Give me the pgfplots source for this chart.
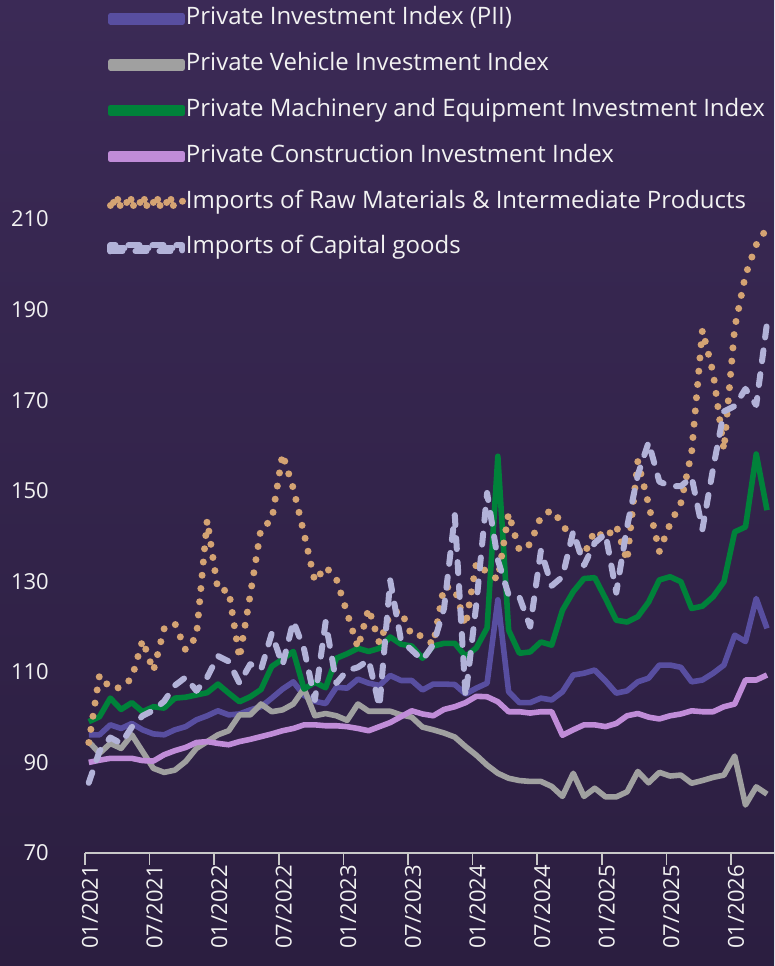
\documentclass[border=0pt]{standalone}
\usepackage{pgfplots}
\pgfplotsset{compat=1.18}
\usepackage{pgfplotstable}
\usepackage{fontspec}
\setmainfont{Open Sans}

\definecolor{bgtop}{RGB}{59,42,86}
\definecolor{bgbot}{RGB}{43,30,64}
\definecolor{cpii}{RGB}{88,78,160}
\definecolor{cveh}{RGB}{160,160,160}
\definecolor{cme}{RGB}{0,130,58}
\definecolor{ccon}{RGB}{192,140,216}
\definecolor{craw}{RGB}{212,163,115}
\definecolor{ccap}{RGB}{178,178,216}
\definecolor{axisgray}{RGB}{200,200,200}
\definecolor{txt}{RGB}{242,242,242}

\pgfplotsset{
  legsolid/.style={legend image code/.code={\path (0bp,-3bp) rectangle (72bp,3bp); \draw[##1, line cap=round] (2.8bp,0bp) -- (69.2bp,0bp);}},
  legshort/.style={legend image code/.code={\path (0bp,-3bp) rectangle (72bp,3bp); \draw[##1] (3bp,0bp) -- (#1,0bp);}},
}

\pgfplotstableread{
i pii veh me con raw cap
0 96.1 94.6 99.0 90.0 94.4 85.5
1 96.1 92.0 100.1 90.5 109.3 92.5
2 98.3 94.2 104.2 90.9 106.4 95.5
3 97.5 93.1 101.7 90.9 106.5 94.2
4 98.6 96.1 103.2 90.9 108.6 97.8
5 97.2 92.4 101.2 90.4 117.0 100.3
6 96.3 88.7 102.3 90.3 110.2 101.5
7 96.1 87.8 102.0 91.7 119.5 103.5
8 97.2 88.3 104.2 92.6 120.7 107.0
9 97.9 90.2 104.4 93.3 114.8 108.8
10 99.4 93.1 104.9 94.4 117.8 105.8
11 100.3 94.6 105.4 94.6 143.5 108.8
12 101.4 96.1 107.3 94.2 128.0 113.5
13 100.5 97.0 105.3 93.9 128.0 112.3
14 100.7 100.5 103.4 94.6 113.0 107.5
15 101.6 100.5 104.5 95.1 127.0 111.7
16 102.3 102.9 106.1 95.7 141.7 110.5
17 104.2 101.2 111.2 96.3 143.5 118.5
18 106.2 101.6 112.8 97.0 158.1 111.5
19 107.8 102.9 114.5 97.5 150.5 121.2
20 104.8 106.3 106.2 98.3 140.5 115.0
21 103.5 100.3 107.7 98.3 130.0 103.8
22 103.0 100.8 106.5 98.1 133.2 121.0
23 106.6 100.3 113.0 98.1 130.5 107.5
24 106.4 99.3 114.0 97.9 123.0 110.3
25 108.4 102.9 115.2 97.5 115.3 111.0
26 107.5 101.3 114.5 97.0 124.0 112.6
27 107.0 101.3 115.2 97.9 116.3 102.3
28 109.2 101.3 117.7 98.8 122.8 130.2
29 108.1 100.5 116.1 100.1 123.5 117.0
30 108.1 100.0 115.7 101.4 118.0 114.8
31 106.0 97.8 113.0 100.7 118.0 112.6
32 107.3 97.2 115.7 100.3 116.0 116.0
33 107.3 96.5 116.3 101.7 128.9 124.0
34 107.2 95.6 116.3 102.3 128.3 144.6
35 105.1 93.5 113.4 103.2 120.2 104.5
36 106.4 91.6 115.3 104.6 134.0 125.0
37 107.5 89.4 119.7 104.5 132.0 149.5
38 125.9 87.6 157.6 103.4 130.4 134.7
39 105.6 86.5 119.2 101.2 145.0 127.0
40 103.2 86.0 114.1 101.2 136.8 126.5
41 103.2 85.8 114.4 100.9 138.2 120.0
42 104.2 85.8 116.6 101.2 144.3 136.8
43 103.8 84.7 115.9 101.2 145.7 129.0
44 105.6 82.5 123.6 96.0 142.8 131.0
45 109.3 87.6 127.7 97.2 138.2 141.0
46 109.7 82.5 130.6 98.3 135.8 133.5
47 110.4 84.3 130.8 98.3 141.2 138.5
48 108.0 82.4 126.2 97.9 139.5 140.5
49 105.3 82.4 121.4 98.6 142.3 127.5
50 105.8 83.5 121.0 100.3 134.5 142.0
51 107.8 88.0 122.2 100.8 156.5 153.5
52 108.6 85.5 125.4 100.0 147.0 160.7
53 111.5 87.8 130.3 99.6 136.6 152.0
54 111.5 87.0 131.0 100.3 142.7 151.0
55 111.0 87.2 129.9 100.7 147.3 151.0
56 107.8 85.4 124.0 101.4 158.5 153.0
57 108.2 86.0 124.5 101.2 185.5 141.5
58 109.7 86.7 126.6 101.2 176.0 155.0
59 111.5 87.2 129.9 102.3 159.0 167.5
60 118.1 91.4 140.9 102.9 186.0 168.7
61 116.7 80.6 142.0 108.2 197.6 172.5
62 126.2 84.6 158.1 108.2 204.3 168.9
63 119.6 83.0 145.7 109.3 208.0 187.0
}\datatable

\begin{document}
\begin{tikzpicture}
\shade[top color=bgtop, bottom color=bgbot] (-85bp,-113bp) rectangle (689bp,853bp);
\begin{axis}[
  at={(0,0)}, anchor=south west,
  scale only axis, width=689bp, height=634bp,
  xmin=0, xmax=64, ymin=70, ymax=210,
  clip=false,
  axis x line*=bottom, axis y line*=left,
  x axis line style={draw=axisgray, line width=1.6bp, -},
  y axis line style={draw=none, -},
  xtick={0,6,...,60},
  xticklabels={01/2021,07/2021,01/2022,07/2022,01/2023,07/2023,01/2024,07/2024,01/2025,07/2025,01/2026},
  ytick={70,90,...,210},
  tick align=outside,
  major tick length=12bp,
  xtick style={draw=axisgray, line width=1.6bp},
  ytick style={draw=none},
  xticklabel style={rotate=90, anchor=east, inner sep=0pt, yshift=-5bp, font=\fontsize{22bp}{26bp}\selectfont, text=txt},
  yticklabel style={anchor=east, inner sep=0pt, xshift=-24bp, font=\fontsize{22bp}{26bp}\selectfont, text=txt},
  /pgf/number format/assume math mode=true,
  legend cell align=left,
  legend style={at={(axis description cs:0.0319,1.3339)}, anchor=north west, draw=none, fill=none,
    inner sep=0pt, outer sep=0pt, row sep=22.8bp, column sep=0bp,
    font=\fontsize{24bp}{28bp}\selectfont, text=txt,
    nodes={inner sep=0pt, text height=17.1bp, text depth=6bp}},
  every axis plot/.append style={line join=round},
]
\addplot[color=cpii, line width=5.6bp, mark=none, legsolid]
  table[x expr=\thisrow{i}+0.35, y=pii] {\datatable};
\addlegendentry{Private Investment Index (PII)}
\addplot[color=cveh, line width=5.6bp, mark=none, legsolid]
  table[x expr=\thisrow{i}+0.35, y=veh] {\datatable};
\addlegendentry{Private Vehicle Investment Index}
\addplot[color=cme, line width=5.6bp, mark=none, legsolid]
  table[x expr=\thisrow{i}+0.35, y=me] {\datatable};
\addlegendentry{Private Machinery and Equipment Investment Index}
\addplot[color=ccon, line width=5.6bp, mark=none, legsolid]
  table[x expr=\thisrow{i}+0.35, y=con] {\datatable};
\addlegendentry{Private Construction Investment Index}
\addplot[color=craw, line width=7bp, line cap=round, dash pattern=on 0bp off 13.3bp, mark=none, legshort=60bp]
  table[x expr=\thisrow{i}+0.35, y=raw] {\datatable};
\addlegendentry{Imports of Raw Materials \& Intermediate Products}
\addplot[color=ccap, line width=6bp, line cap=round, dash pattern=on 11bp off 13bp, mark=none, legshort=62bp]
  table[x expr=\thisrow{i}+0.35, y=cap] {\datatable};
\addlegendentry{Imports of Capital goods}
\end{axis}
\end{tikzpicture}
\end{document}
